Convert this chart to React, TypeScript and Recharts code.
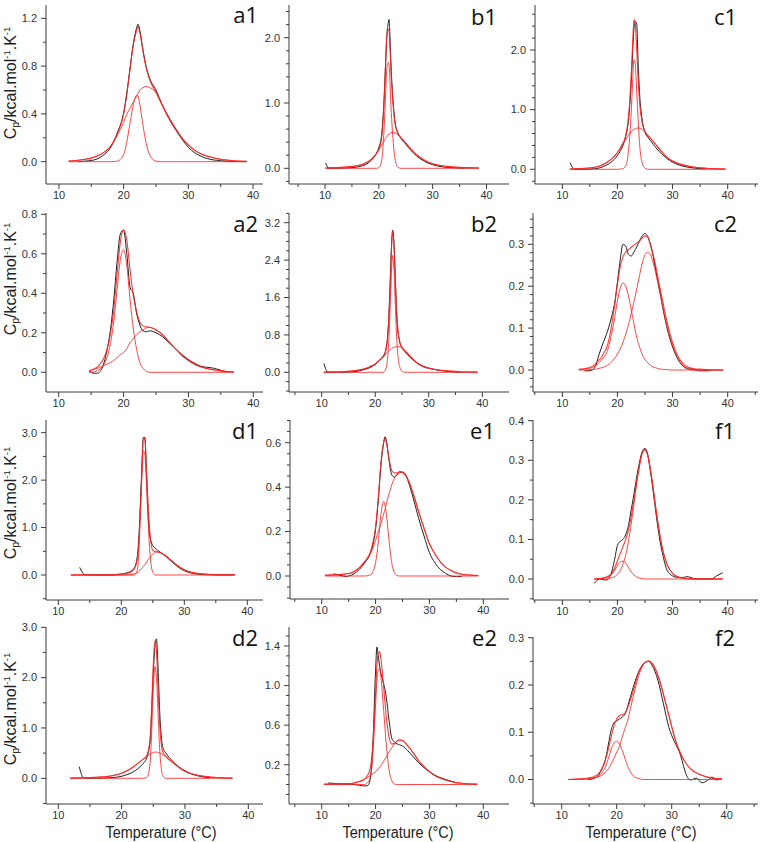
import React from 'react';
import { LineChart, Line, XAxis, YAxis } from 'recharts';

// ---------------- data (temperature grid + curves per panel) ----------------
const a1T = [11.5, 13, 14, 15, 16, 17, 18, 19, 20, 20.5, 21, 21.5, 22, 22.2, 22.5, 23, 23.5, 24, 25, 26, 27, 28, 29, 30, 31, 32, 33, 35, 37, 39];
const a1Exp = [null, 0.0, 0.005, 0.01, 0.025, 0.06, 0.12, 0.24, 0.41, 0.58, 0.79, 0.99, 1.12, 1.15, 1.1, 0.93, 0.79, 0.7, 0.6, 0.47, 0.36, 0.27, 0.19, 0.12, 0.075, 0.045, 0.025, 0.008, 0.002, 0.0];
const a1Fit = [0.005, 0.012, 0.02, 0.03, 0.05, 0.08, 0.13, 0.23, 0.4, 0.57, 0.78, 0.98, 1.1, 1.13, 1.08, 0.92, 0.78, 0.69, 0.58, 0.47, 0.37, 0.28, 0.2, 0.14, 0.095, 0.065, 0.045, 0.02, 0.008, 0.003];
const a1P1 = [0, 0, 0, 0, 0, 0, 0, 0.005, 0.06, 0.17, 0.33, 0.48, 0.555, 0.55, 0.48, 0.3, 0.15, 0.06, 0.005, 0, 0, 0, 0, 0, 0, 0, 0, 0, 0, 0];
const a1P2 = [0.005, 0.012, 0.02, 0.03, 0.05, 0.08, 0.13, 0.22, 0.33, 0.4, 0.45, 0.5, 0.55, 0.57, 0.6, 0.62, 0.63, 0.62, 0.58, 0.47, 0.37, 0.28, 0.2, 0.14, 0.095, 0.065, 0.045, 0.02, 0.008, 0.003];

const b1T = [10.1, 10.8, 12, 14, 16, 17, 18, 19, 19.5, 20, 20.5, 21, 21.25, 21.5, 21.75, 21.9, 22, 22.25, 22.5, 23, 23.5, 24, 25, 26, 27, 28, 29, 30, 32, 34, 36, 38.6];
const b1Exp = [0.08, 0.0, 0.0, 0.005, 0.02, 0.04, 0.08, 0.16, 0.22, 0.32, 0.5, 1.1, 1.6, 2.05, 2.22, 2.28, 2.15, 1.6, 1.2, 0.72, 0.55, 0.47, 0.37, 0.27, 0.19, 0.13, 0.085, 0.055, 0.02, 0.008, 0.003, null];
const b1Fit = [0.005, 0.007, 0.01, 0.02, 0.04, 0.06, 0.1, 0.17, 0.22, 0.29, 0.45, 1.07, 1.58, 2.04, 2.13, 2.1, 1.98, 1.5, 1.15, 0.69, 0.54, 0.48, 0.39, 0.29, 0.21, 0.15, 0.1, 0.07, 0.035, 0.018, 0.01, 0.005];
const b1P1 = [0, 0, 0, 0, 0, 0, 0, 0, 0, 0.01, 0.1, 0.65, 1.12, 1.55, 1.62, 1.58, 1.45, 0.95, 0.6, 0.15, 0.02, 0, 0, 0, 0, 0, 0, 0, 0, 0, 0, 0];
const b1P2 = [0.005, 0.007, 0.01, 0.02, 0.04, 0.06, 0.1, 0.17, 0.22, 0.28, 0.35, 0.42, 0.46, 0.49, 0.51, 0.525, 0.53, 0.545, 0.55, 0.54, 0.52, 0.48, 0.39, 0.29, 0.21, 0.15, 0.1, 0.07, 0.035, 0.018, 0.01, 0.005];

const c1T = [11.4, 12.3, 14, 16, 18, 19, 20, 21, 21.5, 22, 22.5, 22.75, 23, 23.25, 23.5, 23.75, 24, 24.5, 25, 25.5, 26, 27, 28, 29, 30, 32, 34, 36, 39.6];
const c1Exp = [0.11, 0.0, 0.0, 0.01, 0.07, 0.13, 0.23, 0.4, 0.55, 0.82, 1.45, 1.95, 2.35, 2.48, 2.44, 1.8, 1.3, 0.82, 0.62, 0.54, 0.48, 0.36, 0.26, 0.18, 0.12, 0.05, 0.02, 0.005, null];
const c1Fit = [0.005, 0.008, 0.015, 0.035, 0.11, 0.18, 0.28, 0.44, 0.56, 0.87, 1.58, 2.1, 2.51, 2.43, 1.99, 1.54, 1.14, 0.77, 0.64, 0.57, 0.52, 0.41, 0.3, 0.2, 0.14, 0.07, 0.035, 0.018, 0.005];
const c1P1 = [0, 0, 0, 0, 0, 0, 0, 0.01, 0.06, 0.3, 0.95, 1.45, 1.84, 1.75, 1.3, 0.85, 0.45, 0.1, 0.02, 0, 0, 0, 0, 0, 0, 0, 0, 0, 0];
const c1P2 = [0.005, 0.008, 0.015, 0.035, 0.11, 0.18, 0.28, 0.43, 0.5, 0.57, 0.63, 0.65, 0.67, 0.68, 0.69, 0.69, 0.69, 0.67, 0.62, 0.57, 0.52, 0.41, 0.3, 0.2, 0.14, 0.07, 0.035, 0.018, 0.005];

const a2T = [14.7, 15.5, 16, 16.5, 17, 17.5, 18, 18.5, 19, 19.5, 20, 20.5, 21, 21.5, 22, 22.5, 23, 23.5, 24, 25, 26, 27, 28, 29, 30, 31, 32, 33, 34, 35, 36, 37];
const a2Exp = [0.005, -0.005, -0.005, 0.01, 0.05, 0.12, 0.22, 0.37, 0.56, 0.7, 0.72, 0.6, 0.43, 0.4, 0.3, 0.24, 0.21, 0.205, 0.21, 0.2, 0.18, 0.15, 0.12, 0.09, 0.065, 0.045, 0.03, 0.025, 0.02, 0.01, 0.0, null];
const a2Fit = [0.008, 0.018, 0.028, 0.048, 0.075, 0.122, 0.2, 0.32, 0.495, 0.66, 0.72, 0.67, 0.52, 0.39, 0.31, 0.255, 0.235, 0.23, 0.228, 0.215, 0.19, 0.155, 0.12, 0.085, 0.06, 0.04, 0.027, 0.018, 0.012, 0.007, 0.004, 0.002];
const a2P1 = [0.0, 0.003, 0.008, 0.02, 0.04, 0.08, 0.15, 0.26, 0.42, 0.57, 0.62, 0.54, 0.37, 0.22, 0.12, 0.05, 0.02, 0.005, 0, 0, 0, 0, 0, 0, 0, 0, 0, 0, 0, 0, 0, 0];
const a2P2 = [0.008, 0.015, 0.02, 0.028, 0.035, 0.042, 0.05, 0.06, 0.075, 0.09, 0.1, 0.12, 0.15, 0.17, 0.19, 0.205, 0.215, 0.225, 0.228, 0.215, 0.19, 0.155, 0.12, 0.085, 0.06, 0.04, 0.027, 0.018, 0.012, 0.007, 0.004, 0.002];

const b2T = [10.4, 11.2, 13, 15, 17, 18, 19, 20, 21, 21.5, 22, 22.5, 22.75, 23, 23.25, 23.5, 23.75, 24, 24.5, 25, 25.5, 26, 27, 28, 29, 30, 32, 34, 36, 39.1];
const b2Exp = [0.19, 0.0, 0.0, 0.005, 0.03, 0.06, 0.1, 0.17, 0.28, 0.35, 0.5, 1.1, 1.8, 2.6, 3.04, 2.75, 2.0, 1.25, 0.68, 0.52, 0.45, 0.38, 0.27, 0.19, 0.13, 0.09, 0.045, 0.015, 0.003, null];
const b2Fit = [0.003, 0.004, 0.008, 0.02, 0.05, 0.075, 0.12, 0.18, 0.28, 0.33, 0.47, 1.05, 1.73, 2.55, 3.02, 2.73, 2.0, 1.3, 0.7, 0.54, 0.47, 0.41, 0.29, 0.18, 0.12, 0.085, 0.045, 0.025, 0.012, 0.003];
const b2P1 = [0, 0, 0, 0, 0, 0, 0, 0, 0, 0, 0.08, 0.6, 1.25, 2.05, 2.5, 2.2, 1.45, 0.75, 0.15, 0.02, 0, 0, 0, 0, 0, 0, 0, 0, 0, 0];
const b2P2 = [0.003, 0.004, 0.008, 0.02, 0.05, 0.075, 0.12, 0.18, 0.28, 0.33, 0.39, 0.45, 0.48, 0.5, 0.52, 0.535, 0.545, 0.55, 0.545, 0.52, 0.47, 0.41, 0.29, 0.18, 0.12, 0.085, 0.045, 0.025, 0.012, 0.003];

const c2T = [13, 14, 15, 16, 16.5, 17, 17.5, 18, 18.5, 19, 19.5, 20, 20.5, 21, 21.5, 22, 22.5, 23, 23.5, 24, 24.5, 25, 25.5, 26, 26.5, 27, 27.5, 28, 28.5, 29, 29.5, 30, 31, 32, 33, 34, 35, 36, 37, 39.2];
const c2Exp = [null, -0.002, -0.002, 0.008, 0.03, 0.05, 0.068, 0.085, 0.105, 0.13, 0.16, 0.21, 0.262, 0.3, 0.296, 0.276, 0.272, 0.282, 0.294, 0.308, 0.32, 0.326, 0.318, 0.298, 0.27, 0.235, 0.2, 0.165, 0.13, 0.1, 0.075, 0.055, 0.025, 0.008, 0.002, 0, -0.002, -0.002, -0.001, null];
const c2Fit = [0.002, 0.003, 0.006, 0.014, 0.022, 0.028, 0.04, 0.052, 0.075, 0.11, 0.155, 0.205, 0.245, 0.27, 0.281, 0.287, 0.293, 0.298, 0.303, 0.308, 0.315, 0.32, 0.318, 0.3, 0.275, 0.245, 0.21, 0.178, 0.145, 0.115, 0.088, 0.065, 0.032, 0.014, 0.006, 0.003, 0.002, 0.001, 0, 0];
const c2P1 = [0.001, 0.002, 0.004, 0.01, 0.015, 0.022, 0.03, 0.04, 0.06, 0.09, 0.125, 0.165, 0.195, 0.208, 0.2, 0.177, 0.145, 0.11, 0.078, 0.055, 0.037, 0.025, 0.017, 0.011, 0.007, 0.005, 0.003, 0.002, 0.001, 0.001, 0, 0, 0, 0, 0, 0, 0, 0, 0, 0];
const c2P2 = [0, 0, 0.001, 0.002, 0.003, 0.005, 0.007, 0.01, 0.014, 0.02, 0.028, 0.038, 0.05, 0.066, 0.085, 0.108, 0.135, 0.163, 0.193, 0.225, 0.255, 0.275, 0.281, 0.275, 0.255, 0.228, 0.197, 0.165, 0.133, 0.105, 0.08, 0.058, 0.028, 0.01, 0.004, 0.001, 0, 0, 0, 0];

const d1T = [12, 13.4, 14.2, 16, 18, 19, 20, 21, 21.5, 22, 22.5, 22.75, 23, 23.25, 23.5, 23.75, 24, 24.25, 24.5, 25, 25.5, 26, 27, 28, 29, 30, 31, 32, 34, 36, 38];
const d1Exp = [null, 0.16, 0.01, 0.0, 0.0, 0.005, 0.02, 0.05, 0.08, 0.14, 0.35, 0.7, 1.4, 2.25, 2.9, 2.9, 2.1, 1.35, 0.85, 0.62, 0.55, 0.5, 0.4, 0.28, 0.17, 0.09, 0.045, 0.02, 0.005, 0.0, 0.005];
const d1Fit = [0, 0, 0, 0, 0.003, 0.008, 0.02, 0.04, 0.06, 0.11, 0.3, 0.6, 1.3, 2.15, 2.9, 2.85, 2.2, 1.5, 0.95, 0.52, 0.49, 0.48, 0.41, 0.3, 0.19, 0.11, 0.06, 0.035, 0.012, 0.004, 0.001];
const d1P1 = [0, 0, 0, 0, 0, 0, 0, 0, 0, 0, 0.08, 0.4, 1.15, 2.0, 2.62, 2.55, 1.9, 1.15, 0.55, 0.06, 0, 0, 0, 0, 0, 0, 0, 0, 0, 0, 0];
const d1P2 = [0, 0, 0, 0, 0, 0, 0, 0.005, 0.01, 0.02, 0.05, 0.07, 0.1, 0.14, 0.18, 0.22, 0.27, 0.32, 0.37, 0.44, 0.49, 0.48, 0.41, 0.3, 0.19, 0.11, 0.06, 0.035, 0.012, 0.004, 0.001];

const e1T = [10.6, 12.2, 13, 14, 14.6, 15, 16, 17, 18, 19, 19.5, 20, 20.5, 21, 21.5, 21.75, 22, 22.5, 23, 23.5, 24, 24.5, 25, 25.5, 26, 27, 28, 29, 30, 31, 32, 33, 34, 35, 36, 39.1];
const e1Exp = [null, 0.01, 0.005, 0.0, -0.003, 0.0, 0.01, 0.03, 0.06, 0.1, 0.14, 0.21, 0.34, 0.5, 0.6, 0.627, 0.61, 0.52, 0.455, 0.445, 0.455, 0.465, 0.468, 0.46, 0.43, 0.35, 0.26, 0.18, 0.105, 0.06, 0.03, 0.012, 0.0, -0.003, -0.002, null];
const e1Fit = [0.003, 0.005, 0.006, 0.008, 0.01, 0.011, 0.02, 0.038, 0.065, 0.105, 0.15, 0.22, 0.35, 0.51, 0.6, 0.62, 0.6, 0.53, 0.475, 0.465, 0.465, 0.47, 0.465, 0.455, 0.435, 0.37, 0.29, 0.215, 0.145, 0.1, 0.065, 0.04, 0.025, 0.014, 0.008, 0.002];
const e1P1 = [0, 0, 0, 0, 0, 0, 0, 0, 0, 0.005, 0.02, 0.06, 0.15, 0.28, 0.335, 0.32, 0.28, 0.16, 0.06, 0.015, 0.002, 0, 0, 0, 0, 0, 0, 0, 0, 0, 0, 0, 0, 0, 0, 0];
const e1P2 = [0.003, 0.005, 0.006, 0.008, 0.01, 0.011, 0.02, 0.038, 0.065, 0.1, 0.125, 0.16, 0.2, 0.235, 0.28, 0.3, 0.325, 0.37, 0.41, 0.44, 0.46, 0.47, 0.465, 0.455, 0.435, 0.37, 0.29, 0.215, 0.145, 0.1, 0.065, 0.04, 0.025, 0.014, 0.008, 0.002];

const f1T = [15.8, 16.8, 18, 19, 19.5, 20, 20.5, 21, 21.5, 22, 22.5, 23, 23.5, 24, 24.5, 25, 25.5, 26, 26.5, 27, 27.5, 28, 28.5, 29, 30, 31, 32, 32.6, 34, 35, 37, 38, 39.1];
const f1Exp = [-0.011, 0.0, -0.003, 0.02, 0.05, 0.085, 0.095, 0.1, 0.112, 0.135, 0.175, 0.215, 0.258, 0.295, 0.322, 0.33, 0.315, 0.27, 0.22, 0.165, 0.115, 0.075, 0.045, 0.022, 0.008, 0.004, 0.004, 0.006, 0.001, 0, 0, 0.008, 0.016];
const f1Fit = [0, 0.001, 0.005, 0.015, 0.028, 0.046, 0.064, 0.082, 0.1, 0.124, 0.158, 0.2, 0.247, 0.287, 0.319, 0.327, 0.312, 0.275, 0.228, 0.175, 0.128, 0.088, 0.058, 0.037, 0.014, 0.005, 0.002, 0.001, 0, 0, 0, 0, 0];
const f1P1 = [0, 0.001, 0.004, 0.012, 0.022, 0.034, 0.043, 0.045, 0.04, 0.029, 0.018, 0.01, 0.005, 0.002, 0.001, 0, 0, 0, 0, 0, 0, 0, 0, 0, 0, 0, 0, 0, 0, 0, 0, 0, 0];
const f1P2 = [0, 0, 0.001, 0.003, 0.006, 0.012, 0.021, 0.037, 0.06, 0.095, 0.14, 0.19, 0.242, 0.285, 0.318, 0.327, 0.312, 0.275, 0.228, 0.175, 0.128, 0.088, 0.058, 0.037, 0.014, 0.005, 0.002, 0.001, 0, 0, 0, 0, 0];

const d2T = [11.9, 13.3, 14, 16, 18, 20, 21, 22, 23, 23.5, 24, 24.5, 24.75, 25, 25.25, 25.5, 25.75, 26, 26.25, 26.5, 27, 28, 29, 30, 31, 32, 33, 34, 35, 37.5];
const d2Exp = [null, 0.23, 0.01, 0.0, 0.01, 0.04, 0.08, 0.14, 0.24, 0.31, 0.42, 0.75, 1.35, 2.1, 2.6, 2.77, 2.2, 1.35, 0.85, 0.62, 0.5, 0.35, 0.23, 0.15, 0.09, 0.05, 0.025, 0.01, null, null];
const d2Fit = [0.005, 0.008, 0.01, 0.02, 0.04, 0.1, 0.16, 0.24, 0.34, 0.39, 0.46, 0.78, 1.45, 2.26, 2.72, 2.52, 1.81, 1.1, 0.69, 0.52, 0.43, 0.32, 0.22, 0.14, 0.09, 0.06, 0.04, 0.025, 0.015, 0.005];
const d2P1 = [0, 0, 0, 0, 0, 0, 0, 0, 0, 0, 0.02, 0.3, 0.95, 1.75, 2.22, 2.0, 1.3, 0.6, 0.2, 0.05, 0, 0, 0, 0, 0, 0, 0, 0, 0, 0];
const d2P2 = [0.005, 0.008, 0.01, 0.02, 0.04, 0.1, 0.16, 0.24, 0.34, 0.39, 0.44, 0.48, 0.5, 0.51, 0.52, 0.52, 0.51, 0.5, 0.49, 0.47, 0.43, 0.32, 0.22, 0.14, 0.09, 0.06, 0.04, 0.025, 0.015, 0.005];

const e2T = [10.4, 11.2, 13, 15, 16, 17, 17.5, 18, 18.5, 19, 19.5, 20, 20.25, 20.5, 20.75, 21, 21.5, 22, 22.5, 23, 23.5, 24, 24.5, 25, 26, 27, 28, 29, 30, 31, 32, 33, 34, 35, 36, 38.9];
const e2Exp = [null, 0.015, 0.008, 0.002, 0.0, -0.008, -0.012, -0.015, -0.012, 0.05, 0.4, 1.15, 1.39, 1.3, 1.2, 1.12, 1.02, 0.88, 0.65, 0.47, 0.43, 0.41, 0.4, 0.39, 0.34, 0.28, 0.22, 0.17, 0.13, 0.095, 0.07, 0.05, 0.035, 0.015, null, null];
const e2Fit = [0.003, 0.004, 0.006, 0.008, 0.015, 0.03, 0.04, 0.055, 0.09, 0.16, 0.41, 0.93, 1.2, 1.32, 1.345, 1.27, 0.985, 0.68, 0.48, 0.41, 0.415, 0.44, 0.45, 0.445, 0.39, 0.32, 0.24, 0.18, 0.13, 0.09, 0.065, 0.045, 0.03, 0.02, 0.012, 0.004];
const e2P1 = [0, 0, 0, 0, 0, 0, 0, 0, 0.02, 0.07, 0.3, 0.8, 1.05, 1.16, 1.17, 1.08, 0.75, 0.4, 0.15, 0.04, 0.005, 0, 0, 0, 0, 0, 0, 0, 0, 0, 0, 0, 0, 0, 0, 0];
const e2P2 = [0.003, 0.004, 0.006, 0.008, 0.015, 0.03, 0.04, 0.055, 0.07, 0.09, 0.11, 0.13, 0.145, 0.16, 0.175, 0.19, 0.235, 0.28, 0.33, 0.37, 0.41, 0.44, 0.45, 0.445, 0.39, 0.32, 0.24, 0.18, 0.13, 0.09, 0.065, 0.045, 0.03, 0.02, 0.012, 0.004];

const f2T = [11.2, 13, 14.8, 16, 17, 18, 18.5, 19, 19.5, 20, 20.5, 21, 21.5, 22, 22.5, 23, 24, 25, 25.8, 26.5, 27.5, 28.5, 29.5, 30.5, 31, 31.5, 32, 32.5, 33, 33.5, 34.5, 35.5, 36.5, 37.3, 38.2, 39.1];
const f2Exp = [null, null, 0, 0.003, 0.015, 0.045, 0.075, 0.105, 0.12, 0.124, 0.128, 0.132, 0.138, 0.155, 0.175, 0.195, 0.228, 0.246, 0.25, 0.24, 0.21, 0.16, 0.11, 0.08, 0.068, 0.055, 0.035, 0.015, 0.002, -0.001, 0.003, -0.007, -0.002, 0.005, -0.001, 0.003];
const f2Fit = [0, 0.001, 0.003, 0.007, 0.017, 0.044, 0.065, 0.09, 0.113, 0.128, 0.135, 0.137, 0.14, 0.152, 0.168, 0.187, 0.227, 0.246, 0.251, 0.245, 0.22, 0.18, 0.135, 0.09, 0.072, 0.058, 0.046, 0.036, 0.028, 0.022, 0.014, 0.009, 0.005, 0.003, 0.002, 0.001];
const f2P1 = [0, 0, 0.001, 0.003, 0.01, 0.028, 0.045, 0.064, 0.077, 0.081, 0.075, 0.062, 0.045, 0.028, 0.016, 0.008, 0.002, 0, 0, 0, 0, 0, 0, 0, 0, 0, 0, 0, 0, 0, 0, 0, 0, 0, 0, 0];
const f2P2 = [0, 0.001, 0.002, 0.004, 0.007, 0.016, 0.023, 0.033, 0.045, 0.058, 0.07, 0.09, 0.108, 0.125, 0.15, 0.175, 0.22, 0.245, 0.25, 0.245, 0.22, 0.18, 0.135, 0.09, 0.072, 0.058, 0.046, 0.036, 0.028, 0.022, 0.014, 0.009, 0.005, 0.003, 0.002, 0.001];

// y-axis major tick labels per panel
const a1Ticks = [0, 0.4, 0.8, 1.2];
const b1Ticks = [0, 1, 2];
const c1Ticks = [0, 1, 2];
const a2Ticks = [0, 0.2, 0.4, 0.6, 0.8];
const b2Ticks = [0, 0.8, 1.6, 2.4, 3.2];
const c2Ticks = [0, 0.1, 0.2, 0.3];
const d1Ticks = [0, 1, 2, 3];
const e1Ticks = [0, 0.2, 0.4, 0.6];
const f1Ticks = [0, 0.1, 0.2, 0.3, 0.4];
const d2Ticks = [0, 1, 2, 3];
const e2Ticks = [-0.2, 0.2, 0.6, 1.0, 1.4];
const f2Ticks = [0, 0.1, 0.2, 0.3];
const xMajorTicks = [10, 20, 30, 40];

// ---------------- layout ----------------
const RED = '#ff2424';
const BLK = '#202020';
const AX = '#3a3a3a';
const TICK_FONT = "'Liberation Sans', Arial, sans-serif";

type Panel = {
  name: string;
  T: number[]; exp: (number | null)[]; fit: number[]; p1: number[]; p2: number[];
  box: [number, number, number, number];
  xa: [number, number, number, number];
  ya: [number, number, number, number];
  yMajor: number[]; yMinor: number;
  lx: number; ly: number;
};

const panels: Panel[] = [
  { name: 'a1', T: a1T, exp: a1Exp, fit: a1Fit, p1: a1P1, p2: a1P2, box: [46, 263, 5, 184], xa: [59, 10, 253, 40], ya: [161.7, 0, 18.3, 1.2], yMajor: a1Ticks, yMinor: 0.2, lx: 258, ly: 23 },
  { name: 'b1', T: b1T, exp: b1Exp, fit: b1Fit, p1: b1P1, p2: b1P2, box: [289, 509, 5, 184], xa: [325, 10, 486.5, 40], ya: [168.3, 0, 37.7, 2], yMajor: b1Ticks, yMinor: 0.2, lx: 497, ly: 25 },
  { name: 'c1', T: c1T, exp: c1Exp, fit: c1Fit, p1: c1P1, p2: c1P2, box: [535, 758, 5, 184], xa: [562.3, 10, 727.7, 40], ya: [169.3, 0, 50, 2], yMajor: c1Ticks, yMinor: 0.2, lx: 737, ly: 25 },
  { name: 'a2', T: a2T, exp: a2Exp, fit: a2Fit, p1: a2P1, p2: a2P2, box: [46, 263, 213, 392], xa: [58.7, 10, 253.3, 40], ya: [372.3, 0, 214.3, 0.8], yMajor: a2Ticks, yMinor: 0.1, lx: 258, ly: 232 },
  { name: 'b2', T: b2T, exp: b2Exp, fit: b2Fit, p1: b2P1, p2: b2P2, box: [289, 509, 213, 392], xa: [321.7, 10, 482.3, 40], ya: [372.3, 0, 222.7, 3.2], yMajor: b2Ticks, yMinor: 0.2, lx: 497, ly: 232 },
  { name: 'c2', T: c2T, exp: c2Exp, fit: c2Fit, p1: c2P1, p2: c2P2, box: [533, 758, 213, 392], xa: [562.3, 10, 727.7, 40], ya: [370, 0, 244.3, 0.3], yMajor: c2Ticks, yMinor: 0.02, lx: 737, ly: 232 },
  { name: 'd1', T: d1T, exp: d1Exp, fit: d1Fit, p1: d1P1, p2: d1P2, box: [46, 263, 420, 600], xa: [58.3, 10, 247.3, 40], ya: [575, 0, 432.7, 3], yMajor: d1Ticks, yMinor: 0.5, lx: 258, ly: 439 },
  { name: 'e1', T: e1T, exp: e1Exp, fit: e1Fit, p1: e1P1, p2: e1P2, box: [290, 509, 420, 599], xa: [321.7, 10, 483.3, 40], ya: [576, 0, 442.7, 0.6], yMajor: e1Ticks, yMinor: 0.05, lx: 495, ly: 439 },
  { name: 'f1', T: f1T, exp: f1Exp, fit: f1Fit, p1: f1P1, p2: f1P2, box: [533, 758, 420, 600], xa: [562.3, 10, 727.7, 40], ya: [579, 0, 420.7, 0.4], yMajor: f1Ticks, yMinor: 0.05, lx: 735, ly: 439 },
  { name: 'd2', T: d2T, exp: d2Exp, fit: d2Fit, p1: d2P1, p2: d2P2, box: [46, 263, 627, 804], xa: [58.3, 10, 248.3, 40], ya: [778.3, 0, 627.3, 3], yMajor: d2Ticks, yMinor: 0.5, lx: 258, ly: 646 },
  { name: 'e2', T: e2T, exp: e2Exp, fit: e2Fit, p1: e2P1, p2: e2P2, box: [289, 509, 627, 804], xa: [321.7, 10, 483.3, 40], ya: [804.3, -0.2, 646, 1.4], yMajor: e2Ticks, yMinor: 0.1, lx: 497, ly: 646 },
  { name: 'f2', T: f2T, exp: f2Exp, fit: f2Fit, p1: f2P1, p2: f2P2, box: [533, 758, 637, 804], xa: [561.7, 10, 726.7, 40], ya: [779.5, 0, 637.7, 0.3], yMajor: f2Ticks, yMinor: 0.05, lx: 735, ly: 646 },
];

const lin = (p: number, pa: number, va: number, pb: number, vb: number) => va + ((p - pa) * (vb - va)) / (pb - pa);

function stepTicks(lo: number, hi: number, step: number): number[] {
  const out: number[] = [];
  const start = Math.ceil(lo / step - 1e-6);
  for (let k = start; k * step <= hi + 1e-6; k++) out.push(Math.round(k * step * 1e6) / 1e6);
  return out;
}

const isIn = (v: number, list: number[]) => list.some((m) => Math.abs(m - v) < 1e-6);

const XTick = (props: any) => {
  const { x, y, payload } = props;
  const v = payload.value as number;
  const major = isIn(v, xMajorTicks);
  return (
    <g>
      <line x1={x} x2={x} y1={y} y2={y + (major ? 5 : 3)} stroke={AX} strokeWidth={1} />
      {major && (
        <text x={x} y={y + 15} textAnchor="middle" fontSize={11} fontFamily={TICK_FONT} fill="#333">
          {v}
        </text>
      )}
    </g>
  );
};

const YTick = (props: any) => {
  const { x, y, payload, majors } = props;
  const v = payload.value as number;
  const major = isIn(v, majors);
  return (
    <g>
      <line x1={x} x2={x - (major ? 5 : 3)} y1={y} y2={y} stroke={AX} strokeWidth={1} />
      {major && (
        <text x={x - 9} y={y + 3.8} textAnchor="end" fontSize={11} fontFamily={TICK_FONT} fill="#333">
          {v.toFixed(1)}
        </text>
      )}
    </g>
  );
};

const PADL = 50;
const PADT = 6;
const PADR = 2;
const PADB = 24;

function PanelChart({ p }: { p: Panel }) {
  const [l, r, t, b] = p.box;
  const xDom: [number, number] = [lin(l, p.xa[0], p.xa[1], p.xa[2], p.xa[3]), lin(r, p.xa[0], p.xa[1], p.xa[2], p.xa[3])];
  const yDom: [number, number] = [lin(b, p.ya[0], p.ya[1], p.ya[2], p.ya[3]), lin(t, p.ya[0], p.ya[1], p.ya[2], p.ya[3])];
  const xTicks = stepTicks(xDom[0], xDom[1], 5);
  const yTicks = stepTicks(yDom[0], yDom[1], p.yMinor);
  const rows = p.T.map((tt, i) => ({ t: tt, exp: p.exp[i], fit: p.fit[i], p1: p.p1[i], p2: p.p2[i] }));
  return (
    <div style={{ position: 'absolute', left: l - PADL, top: t - PADT }}>
      <LineChart width={r - l + PADL + PADR} height={b - t + PADT + PADB} data={rows} margin={{ top: PADT, right: PADR, bottom: 0, left: 0 }}>
        <XAxis
          dataKey="t"
          type="number"
          domain={xDom}
          allowDataOverflow
          ticks={xTicks}
          interval={0}
          height={PADB}
          tickSize={0}
          tickMargin={0}
          tickLine={false}
          axisLine={{ stroke: AX, strokeWidth: 1 }}
          tick={(tp: any) => <XTick {...tp} />}
        />
        <YAxis
          type="number"
          domain={yDom}
          allowDataOverflow
          ticks={yTicks}
          interval={0}
          width={PADL}
          tickSize={0}
          tickMargin={0}
          tickLine={false}
          axisLine={{ stroke: AX, strokeWidth: 1 }}
          tick={(tp: any) => <YTick {...tp} majors={p.yMajor} />}
        />
        <Line dataKey="exp" type="monotone" stroke={BLK} strokeWidth={1} dot={false} activeDot={false} isAnimationActive={false} connectNulls={false} />
        <Line dataKey="p1" type="monotone" stroke={RED} strokeOpacity={0.85} strokeWidth={1} dot={false} activeDot={false} isAnimationActive={false} />
        <Line dataKey="p2" type="monotone" stroke={RED} strokeOpacity={0.85} strokeWidth={1} dot={false} activeDot={false} isAnimationActive={false} />
        <Line dataKey="fit" type="monotone" stroke={RED} strokeOpacity={0.9} strokeWidth={1.1} dot={false} activeDot={false} isAnimationActive={false} />
      </LineChart>
    </div>
  );
}

const yTitleCenters = [83, 279, 503, 709];
const xTitleCenters = [161, 398, 641];

function YTitle({ cy }: { cy: number }) {
  return (
    <text transform={`translate(16, ${cy}) rotate(-90)`} textAnchor="middle" fontFamily={TICK_FONT} fontSize={16} fill="#222">
      C<tspan fontSize={10.5} dy={3}>p</tspan>
      <tspan dy={-3}>/kcal.mol</tspan>
      <tspan fontSize={9.5} dy={-6}>-1</tspan>
      <tspan dy={6}>.K</tspan>
      <tspan fontSize={9.5} dy={-6}>-1</tspan>
    </text>
  );
}

export default function App() {
  return (
    <div style={{ position: 'absolute', left: 0, top: 0, width: 760, height: 842, background: '#fff', overflow: 'hidden' }}>
      {panels.map((p) => (
        <PanelChart key={p.name} p={p} />
      ))}
      <svg width={760} height={842} style={{ position: 'absolute', left: 0, top: 0, pointerEvents: 'none' }}>
        {panels.map((p) => (
          <text key={p.name} x={p.lx} y={p.ly} textAnchor="end" fontFamily="'Open Sans', 'DejaVu Sans', sans-serif" fontSize={22} fill="#111">
            {p.name}
          </text>
        ))}
        {yTitleCenters.map((cy) => (
          <YTitle key={cy} cy={cy} />
        ))}
        {xTitleCenters.map((cx) => (
          <text key={cx} x={cx} y={838} textAnchor="middle" fontFamily={TICK_FONT} fontSize={16} fill="#222" textLength={111} lengthAdjust="spacingAndGlyphs">
            Temperature (°C)
          </text>
        ))}
      </svg>
    </div>
  );
}
